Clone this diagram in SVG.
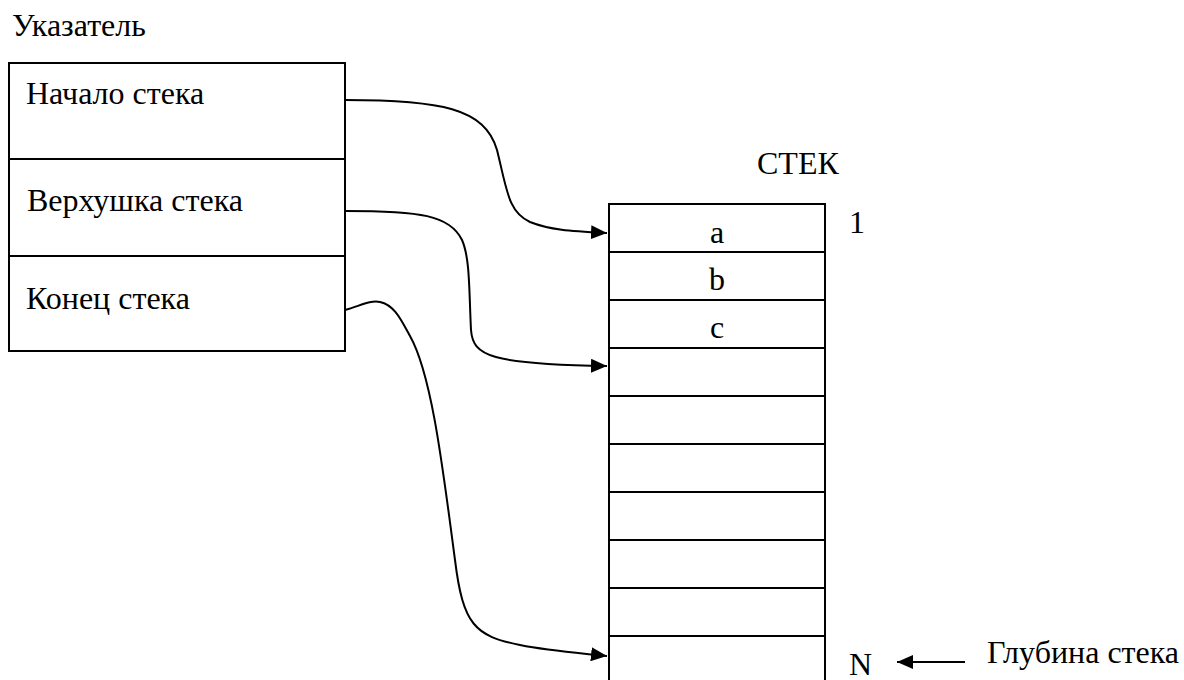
<svg xmlns="http://www.w3.org/2000/svg" width="1184" height="680" viewBox="0 0 1184 680">
<style>
text{font-family:"Liberation Serif","Times New Roman",serif;font-size:32px;fill:#000}
.box{fill:#fff;stroke:#000;stroke-width:2}
.div{stroke:#000;stroke-width:2}
.conn{fill:none;stroke:#000;stroke-width:2}
.mid{text-anchor:middle}
</style>
<defs>
<marker id="ah" markerUnits="userSpaceOnUse" markerWidth="16" markerHeight="14" refX="16" refY="7" orient="auto">
<path d="M0,0 L16,7 L0,14 z" fill="#000"/>
</marker>
</defs>
<rect width="1184" height="680" fill="#fff"/>
<text x="12" y="36">Указатель</text>
<g id="pointer">
<rect class="box" x="9" y="63" width="336" height="288"/>
<line class="div" x1="9" y1="159" x2="345" y2="159"/>
<line class="div" x1="9" y1="256" x2="345" y2="256"/>
<text x="26" y="104">Начало стека</text>
<text x="27" y="211">Верхушка стека</text>
<text x="26" y="309">Конец стека</text>
</g>
<g id="stack">
<text x="757" y="174">СТЕК</text>
<text x="849" y="233">1</text>
<path class="box" d="M609,685 V204 H825 V685"/>
<line class="div" x1="609" y1="252" x2="825" y2="252"/>
<line class="div" x1="609" y1="300" x2="825" y2="300"/>
<line class="div" x1="609" y1="348" x2="825" y2="348"/>
<line class="div" x1="609" y1="396" x2="825" y2="396"/>
<line class="div" x1="609" y1="444" x2="825" y2="444"/>
<line class="div" x1="609" y1="492" x2="825" y2="492"/>
<line class="div" x1="609" y1="540" x2="825" y2="540"/>
<line class="div" x1="609" y1="588" x2="825" y2="588"/>
<line class="div" x1="609" y1="636" x2="825" y2="636"/>
<text class="mid" x="717" y="243">a</text>
<text class="mid" x="717" y="290">b</text>
<text class="mid" x="717" y="338">c</text>
<text x="849" y="675">N</text>
</g>
<g id="depth">
<text x="987" y="663">Глубина стека</text>
</g>
<g id="connectors">
<path class="conn" marker-end="url(#ah)" d="M345,100 C440,100 485,108 497,150 C507,190 508,212 530,222 C550,230 570,231 607,233"/>
<path class="conn" marker-end="url(#ah)" d="M345,211 C420,211 450,215 462,240 C470,258 469,290 471,330 C473,356 490,364 607,366"/>
<path class="conn" marker-end="url(#ah)" d="M345,310 C360,306 370,300 380,302 C395,305 402,322 410,336 C432,375 443,470 455,560 C463,625 475,636 520,645 C550,651 580,653 607,656"/>
<line class="conn" marker-end="url(#ah)" x1="965" y1="662" x2="897" y2="662"/>
</g>
</svg>
